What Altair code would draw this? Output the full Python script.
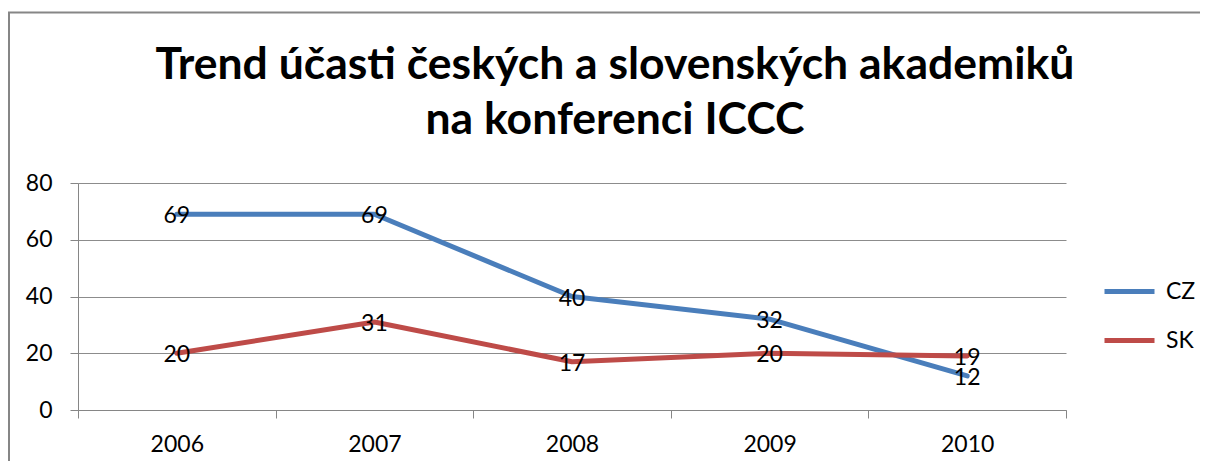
import altair as alt
import pandas as pd

years = ["2006", "2007", "2008", "2009", "2010"]
cz = [69, 69, 40, 32, 12]
sk = [20, 31, 17, 20, 19]
series = ["CZ", "SK"]
colors = ["#4A7EBB", "#BE4B48"]
title_lines = ["Trend účasti českých a slovenských akademiků", "na konferenci ICCC"]

rows = []
for y, v in zip(years, cz):
    rows.append({"year": y, "value": v, "series": "CZ"})
for y, v in zip(years, sk):
    rows.append({"year": y, "value": v, "series": "SK"})
df = pd.DataFrame(rows)

FONT = "Lato"
GRAY = "#868686"

x_enc = alt.X(
    "year:N",
    sort=years,
    scale=alt.Scale(type="band", paddingInner=0, paddingOuter=0),
    axis=alt.Axis(
        title=None, labelAngle=0, labelFontSize=23, labelFont=FONT, labelColor="black",
        tickBand="extent", ticks=True, tickSize=8, tickColor=GRAY, domainColor=GRAY,
        labelPadding=15, grid=False,
    ),
)
y_enc = alt.Y(
    "value:Q",
    scale=alt.Scale(domain=[0, 80], nice=False),
    axis=alt.Axis(
        title=None, values=[0, 20, 40, 60, 80], labelFontSize=23, labelFont=FONT,
        labelColor="black", tickSize=8, tickColor=GRAY, domainColor=GRAY,
        labelPadding=18, grid=True, gridColor="#8c8c8c",
    ),
)

one = pd.DataFrame({"a": [0]})

frame = alt.Chart(one).mark_rect(
    fillOpacity=0, stroke=GRAY, strokeWidth=2
).encode(
    x=alt.value(-69), x2=alt.value(1300), y=alt.value(-170.5), y2=alt.value(700)
)

title = alt.Chart(one).mark_text(
    text=title_lines, fontSize=44.5, font=FONT, fontWeight="bold", color="black",
    lineHeight=55, align="center", baseline="alphabetic",
).encode(x=alt.value(537), y=alt.value(-104))

lines = alt.Chart(df).mark_line(strokeWidth=5, strokeCap="round", strokeJoin="round").encode(
    x=x_enc,
    y=y_enc,
    color=alt.Color(
        "series:N",
        scale=alt.Scale(domain=series, range=colors),
        legend=alt.Legend(
            title=None, orient="none", legendX=1024, legendY=81,
            symbolType="stroke", symbolSize=2500, symbolStrokeWidth=5,
            labelFontSize=23, labelFont=FONT, labelColor="black",
            labelOffset=9, rowPadding=9, padding=0,
        ),
    ),
)

labels = alt.Chart(df).mark_text(fontSize=23, font=FONT, color="black", dy=2).encode(
    x=x_enc, y=y_enc, text="value:Q", detail="series:N"
)

chart = alt.layer(frame, title, lines, labels).properties(
    width=988,
    height=227,
    autosize=alt.AutoSizeParams(type="none"),
    padding={"left": 70, "top": 175, "right": 134, "bottom": 51},
).configure_view(strokeWidth=0)

chart.save("out.html", embed_options={"renderer": "svg", "actions": False})
